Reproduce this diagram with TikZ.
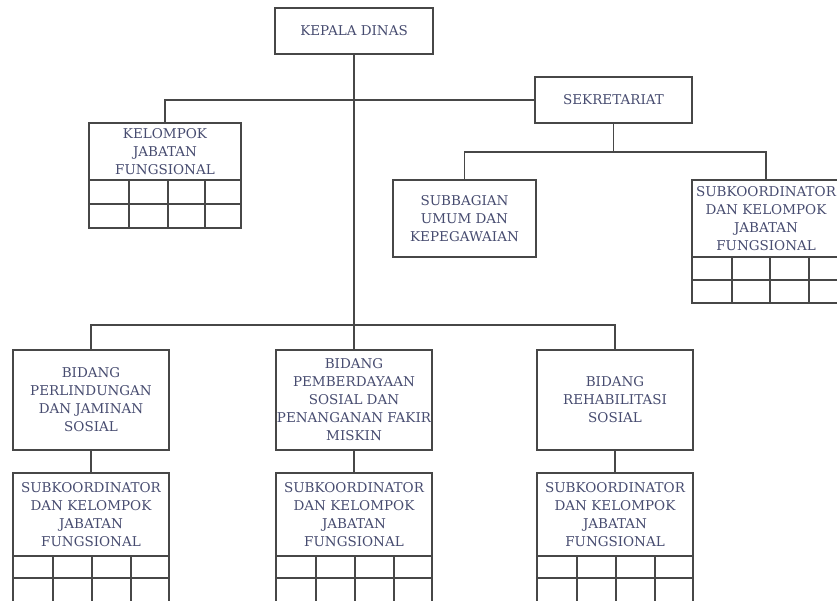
\documentclass[tikz,border=0pt]{standalone}
\usepackage{fontspec}
\setmainfont{DejaVu Serif}
\usetikzlibrary{calc}
\definecolor{linec}{HTML}{474747}
\definecolor{txtc}{HTML}{474C70}
\begin{document}
\begin{tikzpicture}[x=1pt,y=-1pt,
  ln/.style={draw=linec,line width=1.5pt},
  unit/.style={ln,text=txtc,align=center,inner sep=0pt,outer sep=0pt,font=\fontsize{13.5}{18}\selectfont},
]
\useasboundingbox (0,0) rectangle (837,600);
\fill[white] (0,0) rectangle (837,600);
\clip (0,0) rectangle (837,600);

% top level
\node[unit,minimum width=158pt,minimum height=46pt] (kd) at (354,31) {KEPALA DINAS};
\node[unit,minimum width=157pt,minimum height=46pt] (sek) at (613.5,100) {SEKRETARIAT};
\node[unit,minimum width=152pt,minimum height=57pt] (kjf) at (165,151.5) {KELOMPOK\\JABATAN\\FUNGSIONAL};
\node[unit,minimum width=143pt,minimum height=77pt] (sub) at (464.5,218.5) {SUBBAGIAN\\UMUM DAN\\KEPEGAWAIAN};
\node[unit,minimum width=148pt,minimum height=77pt] (skr) at (766,218.5) {SUBKOORDINATOR\\DAN KELOMPOK\\JABATAN\\FUNGSIONAL};

% bidang
\node[unit,minimum width=156pt,minimum height=100pt] (b1) at (91,400) {BIDANG\\PERLINDUNGAN\\DAN JAMINAN\\SOSIAL};
\node[unit,minimum width=156pt,minimum height=100pt] (b2) at (354,400) {BIDANG\\PEMBERDAYAAN\\SOSIAL DAN\\PENANGANAN FAKIR\\MISKIN};
\node[unit,minimum width=156pt,minimum height=100pt] (b3) at (615,400) {BIDANG\\REHABILITASI\\SOSIAL};

% subkoordinator under bidang
\node[unit,minimum width=156pt,minimum height=83pt] (s1) at (91,514.5) {SUBKOORDINATOR\\DAN KELOMPOK\\JABATAN\\FUNGSIONAL};
\node[unit,minimum width=156pt,minimum height=83pt] (s2) at (354,514.5) {SUBKOORDINATOR\\DAN KELOMPOK\\JABATAN\\FUNGSIONAL};
\node[unit,minimum width=156pt,minimum height=83pt] (s3) at (615,514.5) {SUBKOORDINATOR\\DAN KELOMPOK\\JABATAN\\FUNGSIONAL};

% grids
\draw[ln] (kjf.south west) -- ++(0,48) -- ++(152,0) -- ++(0,-48);
\draw[ln] ($(kjf.south west)+(0,24)$) -- ++(152,0);
\foreach \i in {40,79,116} \draw[ln] ($(kjf.south west)+(\i,0)$) -- ++(0,48);

\draw[ln] (skr.south west) -- ++(0,46) -- ++(160,0);
\draw[ln] ($(skr.south west)+(0,23)$) -- ++(160,0);
\foreach \i in {40,78,117} \draw[ln] ($(skr.south west)+(\i,0)$) -- ++(0,46);

\foreach \s in {s1,s2,s3}{
  \draw[ln] (\s.south west) -- ++(0,50);
  \draw[ln] (\s.south east) -- ++(0,50);
  \draw[ln] ($(\s.south west)+(0,22)$) -- ++(156,0);
  \foreach \i in {40,79,118} \draw[ln] ($(\s.south west)+(\i,0)$) -- ++(0,50);
}

% connectors
\draw[ln] (kd.south) -- (b2.north);
\draw[ln] (kjf.north) |- (sek.west);
\draw[ln] (sek.south) -- ++(0,29) coordinate (sj);
\draw[ln] (sub.north) |- (sj) -| (skr.north);
\draw[ln] (b1.north) -- ++(0,-25) coordinate (bj) -| (b3.north);
\draw[ln] (b1.south) -- (s1.north);
\draw[ln] (b2.south) -- (s2.north);
\draw[ln] (b3.south) -- (s3.north);
\end{tikzpicture}
\end{document}
